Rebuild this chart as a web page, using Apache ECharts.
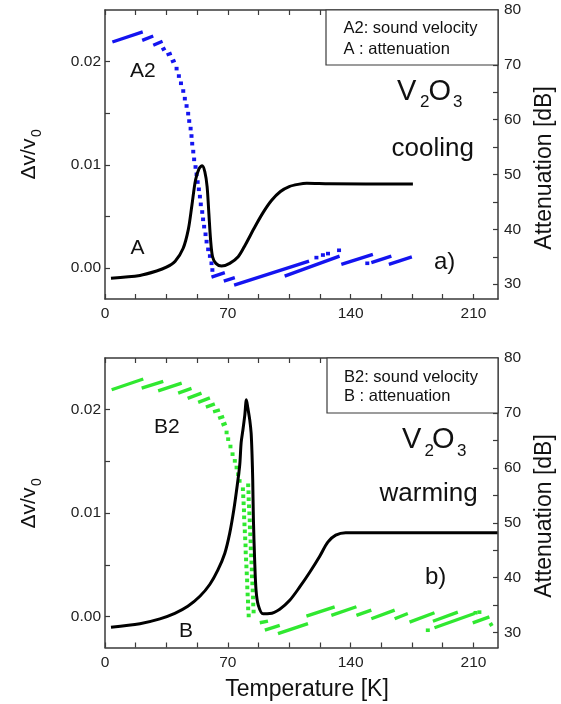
<!DOCTYPE html>
<html><head><meta charset="utf-8">
<script src="https://cdn.jsdelivr.net/npm/echarts@6/dist/echarts.min.js"></script>
<style>html,body{margin:0;padding:0;background:#fff}#c{width:561px;height:704px}</style>
</head><body><div id="c"></div>
<script>
// ---- tick values / labels ----
const xTicks = [0,17.5,35,52.5,70,87.5,105,122.5,140,157.5,175,192.5,210];
const xTickLabels = [0,70,140,210];
const vTicks = [0,0.005,0.01,0.015,0.02];
const vTickLabels = [0,0.01,0.02];
const dbTicks = [30,35,40,45,50,55,60,65,70,75];
const dbTickLabels = [30,40,50,60,70,80];

// ---- panel a) cooling ----
const coolA_T  = [3.4,19.9,29.4,35.0,40.0,44.5,47.5,49.5,51.6,53.7,55.4,56.9,58.2,59.2,60.2,61.3,63.2,66.4,71.1,75.9,80.0,85.0,90.0,95.0,100.0,105.0,110.0,115.0,128.0,175.5];
const coolA_dB = [31.1,31.6,32.4,33.1,34.2,36.5,40.0,44.3,49.0,51.1,51.6,50.5,47.8,42.9,38.0,35.0,33.8,33.3,33.8,35.0,37.2,40.2,43.0,45.3,46.9,47.8,48.2,48.4,48.3,48.25];
// sound velocity A2: short measured segments [T1, v1, T2, v2]
const coolA2_segments = [
  [4.2,0.02190,21.5,0.02287],[21.2,0.02206,27.5,0.02248],[27.5,0.02158,32.8,0.02197],
  [32.3,0.02112,34.5,0.02132],[35.1,0.02064,38.0,0.02083],[37.6,0.01996,40.2,0.02013],
  [60.7,-0.00087,68.3,-0.00045],[67.7,-0.00126,74.0,-0.00093],[73.6,-0.00165,116.3,0.00068],
  [102.4,-0.00078,133.7,0.00116],[134.7,0.00036,152.7,0.00133],[151.8,0.00052,163.2,0.00116],
  [161.8,0.00036,174.9,0.00107]
];
const coolA2_dots = [
  [40.8,0.01932],[42.1,0.01860],[43.3,0.01790],[44.6,0.01715],[45.5,0.01641],[46.5,0.01570],
  [47.4,0.01496],[48.0,0.01424],[48.8,0.01351],[49.3,0.01279],[49.7,0.01205],[50.3,0.01128],
  [50.8,0.01053],[51.6,0.00979],[52.2,0.00908],[52.8,0.00833],[53.5,0.00763],[54.1,0.00692],
  [54.6,0.00617],[55.4,0.00543],[55.9,0.00472],[56.5,0.00401],[57.3,0.00327],[57.9,0.00256],
  [58.8,0.00181],[59.8,0.00116],[60.7,0.00046],[61.2,-0.00019],
  [120.5,0.00101],[124.2,0.00126],[127.1,0.00140],[133.4,0.00172],[149.5,0.00046]
];

// ---- panel b) warming ----
const warmB_T  = [3.4,19.9,31.3,39.8,47.2,54.1,59.8,64.3,68.3,71.1,73.4,75.4,76.8,77.6,78.6,79.7,80.6,81.4,82.5,83.3,83.8,84.2,84.6,85.3,86.1,87.4,90.1,93.9,99.6,105.3,111.0,116.7,122.4,127.0,131.5,137.2,160.0,223.7];
const warmB_dB = [31.0,31.64,32.52,33.52,34.8,36.62,38.81,41.37,44.47,48.12,52.32,56.88,60.53,64.6,66.9,69.66,72.39,70.93,68.74,66.3,62.5,57.8,50.49,43.19,37.72,34.98,33.43,33.47,34.27,35.89,38.32,41.0,43.92,46.48,47.76,48.21,48.21,48.21];
const warmB2_segments = [
  [3.8,0.02193,21.8,0.02297],[20.9,0.02209,33.2,0.02274],[30.3,0.02183,43.7,0.02258],
  [41.7,0.02161,49.3,0.02207],[47.1,0.02109,55.0,0.02161],[53.1,0.02071,59.8,0.02115],
  [57.5,0.02025,62.6,0.02057],[61.6,0.01980,65.5,0.01999],[64.5,0.01916,67.9,0.01935],
  [66.4,0.01851,69.3,0.01870],
  [88.2,-0.00061,92.9,-0.00045],[91.1,-0.00133,99.6,-0.00087],[98.6,-0.00165,115.7,-0.00068],
  [114.8,0.00003,130.9,0.00094],[129.0,0.00010,143.3,0.00094],[143.3,0.00010,151.8,0.00061],
  [151.8,-0.00022,165.1,0.00061],[165.1,-0.00022,172.6,0.00029],[173.6,-0.00055,187.8,0.00036],
  [186.9,-0.00046,201.1,0.00042],[187.8,-0.00109,210.6,0.00029],[209.6,-0.00061,219.1,-0.00003],
  [219.1,-0.00087,221.0,-0.00068]
];
const warmB2_dots = [
  [69.3,0.01780],[70.2,0.01715],[71.5,0.01644],[72.7,0.01570],[74.0,0.01505],[75.0,0.01441],[75.9,0.01376],[76.7,0.01311],
  [78.6,0.01231],[78.8,0.01163],[79.0,0.01095],[79.2,0.01027],[79.3,0.00959],[79.5,0.00891],[79.7,0.00824],[79.9,0.00756],
  [80.1,0.00688],[80.2,0.00620],[80.4,0.00552],[80.6,0.00484],[80.8,0.00417],[81.0,0.00349],[81.1,0.00281],[81.3,0.00213],
  [81.5,0.00145],[81.6,0.00078],[81.9,0.00010],
  [81.6,0.01269],[81.8,0.01202],[81.9,0.01134],[82.1,0.01066],[82.3,0.00998],[82.5,0.00930],[82.6,0.00862],[82.8,0.00795],
  [83.0,0.00727],[83.1,0.00659],[83.3,0.00591],[83.5,0.00523],[83.7,0.00455],[83.8,0.00388],[84.0,0.00320],[84.2,0.00252],
  [84.4,0.00184],[84.5,0.00116],[84.7,0.00048],
  [184.0,-0.00133],[211.2,0.00036],[213.4,0.00042]
];

// ---- styling ----
const FONT = "'Liberation Sans', Arial, Helvetica, sans-serif";
const FRAME = '#3a3a3a';
const BLUE = '#1414f0';
const GREEN = '#30e830';
const TXT = '#111';

const chart = echarts.init(document.getElementById('c'), null, {renderer:'canvas'});

function xAx(grid, pos, showLabel){
  return {type:'value', gridIndex:grid, position:pos, min:0, max:224,
    axisLine:{show:true, onZero:false, lineStyle:{color:FRAME, width:1.5}},
    axisTick:{show:true, inside:true, length:5, customValues:xTicks, lineStyle:{color:FRAME, width:1.2}},
    axisLabel:{show:showLabel, customValues:xTickLabels, fontSize:15.5, color:'#222', margin:7, fontFamily:FONT},
    splitLine:{show:false}};
}
function vAx(grid){
  return {type:'value', gridIndex:grid, position:'left', min:-0.003, max:0.025,
    axisLine:{show:true, onZero:false, lineStyle:{color:FRAME, width:1.5}},
    axisTick:{show:true, inside:true, length:5, customValues:vTicks, lineStyle:{color:FRAME, width:1.2}},
    axisLabel:{show:true, customValues:vTickLabels, fontSize:15.5, color:'#222', margin:4, fontFamily:FONT,
      formatter:function(v){return Number(v).toFixed(2);}},
    splitLine:{show:false}};
}
function dbAx(grid){
  return {type:'value', gridIndex:grid, position:'right', min:27.3, max:80,
    axisLine:{show:true, onZero:false, lineStyle:{color:FRAME, width:1.5}},
    axisTick:{show:true, inside:true, length:5, customValues:dbTicks, lineStyle:{color:FRAME, width:1.2}},
    axisLabel:{show:true, customValues:dbTickLabels, fontSize:15.5, color:'#222', margin:6, fontFamily:FONT},
    splitLine:{show:false}};
}
function segSeries(segs, xi, yi, color){
  return {type:'lines', coordinateSystem:'cartesian2d', xAxisIndex:xi, yAxisIndex:yi, silent:true,
    polyline:false, data: segs.map(s=>({coords:[[s[0],s[1]],[s[2],s[3]]]})),
    lineStyle:{color:color, width:3.4, opacity:1, curveness:0, cap:'butt'}, z:2};
}
function dotSeries(dots, xi, yi, color){
  return {type:'scatter', xAxisIndex:xi, yAxisIndex:yi, silent:true, data:dots,
    symbol:'rect', symbolSize:[4,3.6], itemStyle:{color:color, opacity:1}, z:2};
}
function curveSeries(T, D, xi, yi){
  return {type:'line', xAxisIndex:xi, yAxisIndex:yi, silent:true, data:T.map((t,i)=>[t,D[i]]),
    smooth:0.3, showSymbol:false, symbol:'none',
    lineStyle:{color:'#000', width:3, join:'round'}, z:3};
}

function txt(x, y, text, size, extra){
  return Object.assign({type:'text', x:x, y:y, z:100,
    style:{text:text, fontSize:size, fontFamily:FONT, fill:TXT, textAlign:'left', textVerticalAlign:'middle'}}, extra||{});
}
function ctxt(x, y, text, size, rot){
  return {type:'text', x:x, y:y, z:100, rotation:rot||0,
    style:{text:text, fontSize:size, fontFamily:FONT, fill:TXT, textAlign:'center', textVerticalAlign:'middle'}};
}

const graphics = [
  // legend boxes
  {type:'rect', z:50, shape:{x:326, y:10, width:172, height:55}, style:{fill:'#fff', stroke:FRAME, lineWidth:1.2}},
  {type:'rect', z:50, shape:{x:327, y:358, width:171, height:55}, style:{fill:'#fff', stroke:FRAME, lineWidth:1.2}},
  txt(343.5, 28.5, 'A2: sound velocity', 16.5),
  txt(343.5, 49, 'A : attenuation', 16.5),
  txt(344, 377, 'B2: sound velocity', 16.5),
  txt(344, 396, 'B : attenuation', 16.5),
  // V2O3 labels
  txt(397, 92, 'V', 29), txt(420, 102, '2', 17), txt(428.5, 92, 'O', 29), txt(453, 102, '3', 17),
  txt(402, 440, 'V', 29), txt(424.5, 451, '2', 17), txt(432, 440, 'O', 29), txt(457, 451, '3', 17),
  txt(391.5, 149, 'cooling', 26),
  txt(379.5, 494, 'warming', 26),
  txt(434, 262, 'a)', 24),
  txt(425, 577, 'b)', 24),
  txt(130, 71, 'A2', 21),
  txt(130.5, 248.5, 'A', 21),
  txt(154, 427, 'B2', 21),
  txt(179, 631, 'B', 21),
  // axis names
  ctxt(29, 159, 'Δv/v', 21, Math.PI/2), ctxt(37.5, 133, '0', 14, Math.PI/2),
  ctxt(29, 508, 'Δv/v', 21, Math.PI/2), ctxt(37.5, 482, '0', 14, Math.PI/2),
  ctxt(545, 168, 'Attenuation [dB]', 23, Math.PI/2),
  ctxt(545, 516, 'Attenuation [dB]', 23, Math.PI/2),
  ctxt(307, 690, 'Temperature [K]', 23, 0)
];

chart.setOption({
  animation:false,
  backgroundColor:'#fff',
  textStyle:{fontFamily:FONT},
  grid:[
    {left:105, top:10, width:393, height:289, containLabel:false},
    {left:105, top:358, width:393, height:289.5, containLabel:false}
  ],
  xAxis:[ xAx(0,'bottom',true), xAx(0,'top',false), xAx(1,'bottom',true), xAx(1,'top',false) ],
  yAxis:[ vAx(0), dbAx(0), vAx(1), dbAx(1) ],
  series:[
    segSeries(coolA2_segments, 0, 0, BLUE),
    dotSeries(coolA2_dots, 0, 0, BLUE),
    curveSeries(coolA_T, coolA_dB, 0, 1),
    segSeries(warmB2_segments, 2, 2, GREEN),
    dotSeries(warmB2_dots, 2, 2, GREEN),
    curveSeries(warmB_T, warmB_dB, 2, 3)
  ],
  graphic: graphics
});
</script>
</body></html>
